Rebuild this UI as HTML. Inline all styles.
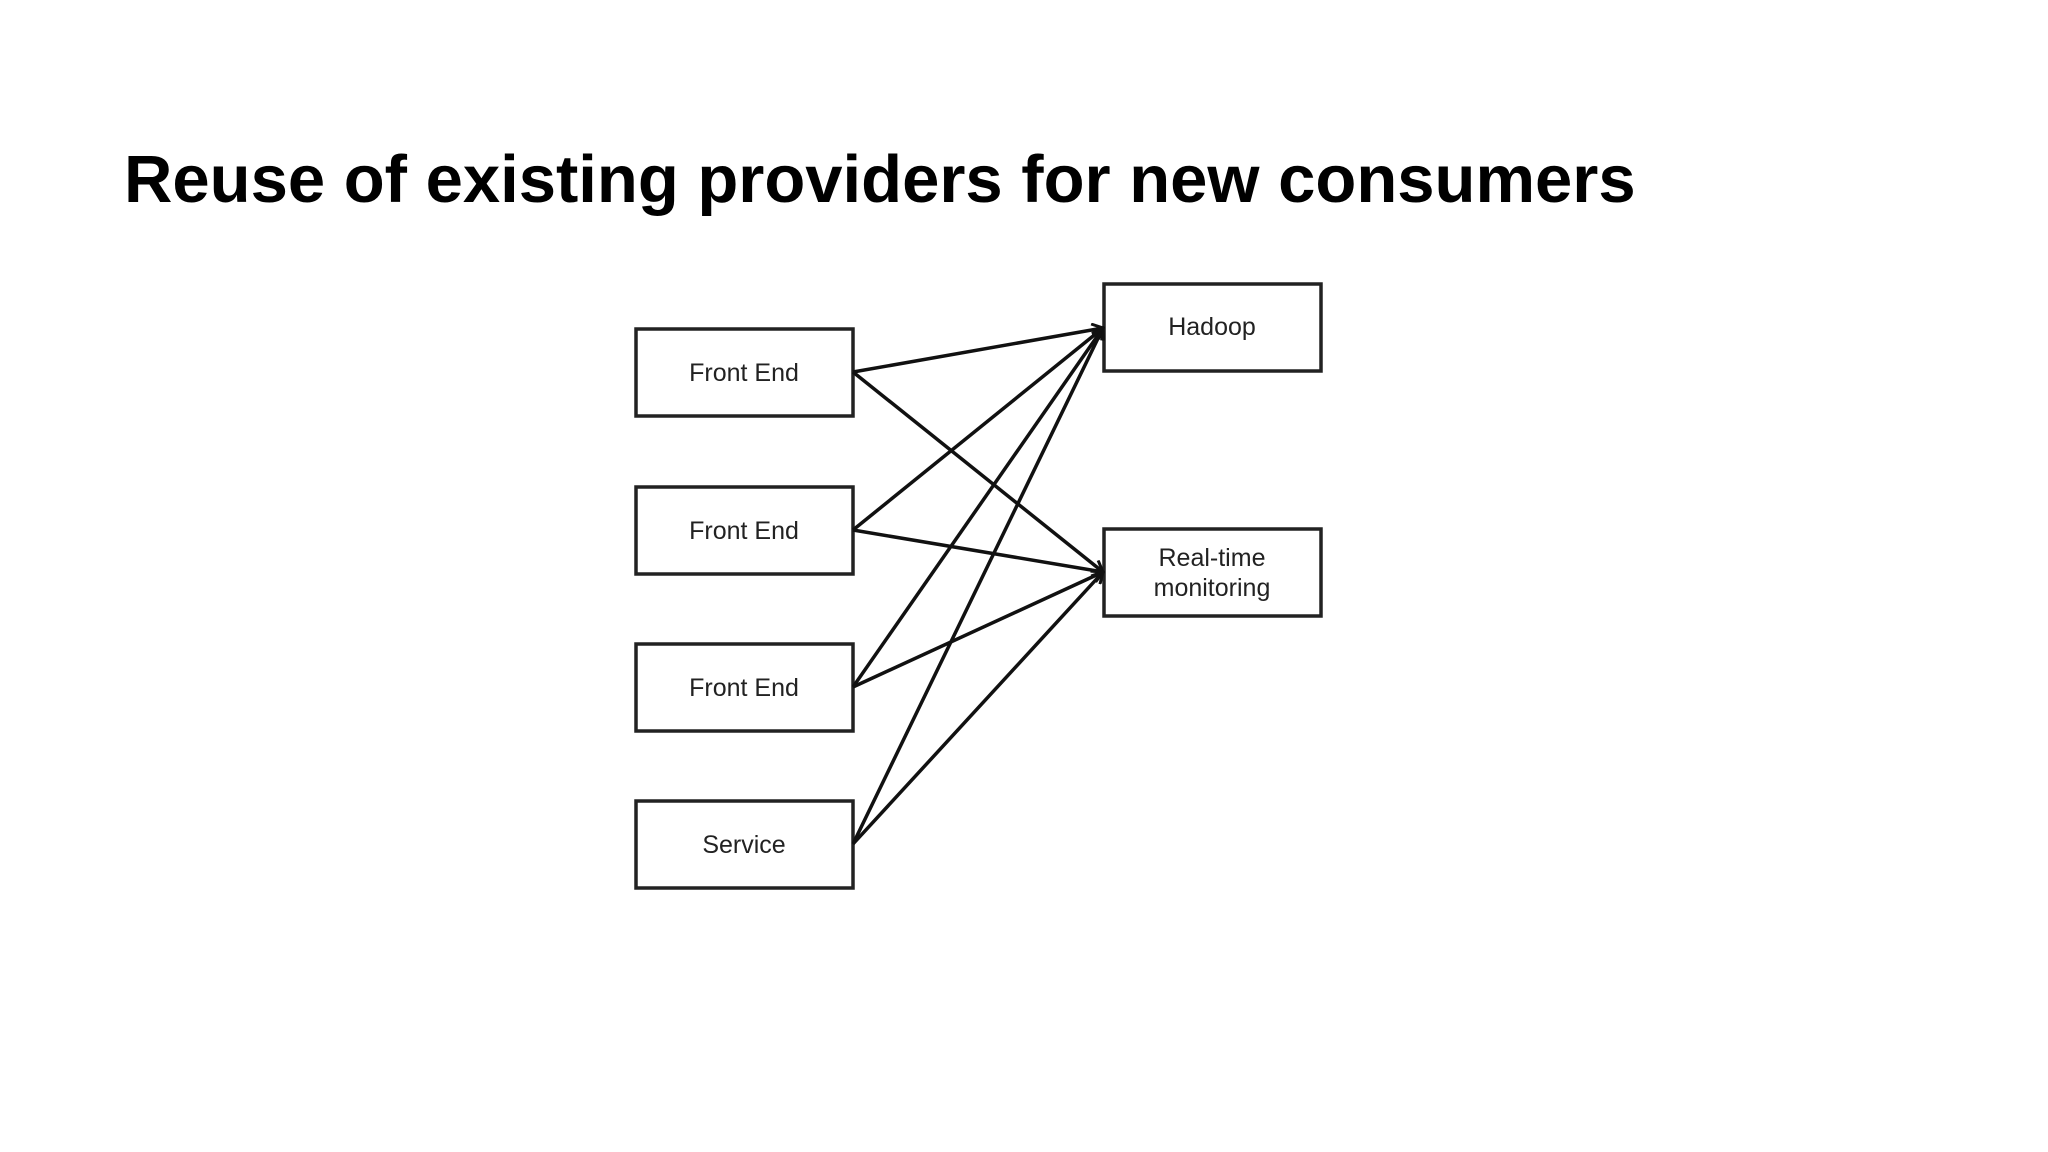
<!DOCTYPE html>
<html><head><meta charset="utf-8"><style>
body{margin:0;width:2048px;height:1152px;background:#fff;overflow:hidden;position:relative;font-family:"Liberation Sans",Arial,sans-serif}
h1{position:absolute;left:124px;top:140px;margin:0;font-size:67px;font-weight:bold;line-height:80px;color:#000}
</style></head><body>
<h1>Reuse of existing providers for new consumers</h1>
<svg width="2048" height="1152" style="position:absolute;left:0;top:0">
<defs><marker id="a" markerWidth="14" markerHeight="14" refX="12" refY="7" orient="auto" markerUnits="userSpaceOnUse"><path d="M1,1 L12,7 L1,13" fill="none" stroke="#111" stroke-width="3"/></marker></defs>
<g stroke="#222" stroke-width="3.5" fill="#fff">
<rect x="636" y="329" width="217" height="87"/>
<rect x="636" y="487" width="217" height="87"/>
<rect x="636" y="644" width="217" height="87"/>
<rect x="636" y="801" width="217" height="87"/>
<rect x="1104" y="284" width="217" height="87"/>
<rect x="1104" y="529" width="217" height="87"/>
</g>
<g stroke="#111" stroke-width="3.5" fill="none" marker-end="url(#a)">
<line x1="853" y1="372" x2="1103" y2="328"/>
<line x1="853" y1="372" x2="1103" y2="572"/>
<line x1="853" y1="530" x2="1103" y2="328"/>
<line x1="853" y1="530" x2="1103" y2="572"/>
<line x1="853" y1="687" x2="1103" y2="328"/>
<line x1="853" y1="687" x2="1103" y2="572"/>
<line x1="853" y1="844" x2="1103" y2="328"/>
<line x1="853" y1="844" x2="1103" y2="572"/>
</g>
<g font-family="Liberation Sans, Arial, sans-serif" font-size="25" fill="#222" text-anchor="middle">
<text x="744" y="381">Front End</text>
<text x="744" y="539">Front End</text>
<text x="744" y="696">Front End</text>
<text x="744" y="853">Service</text>
<text x="1212" y="335">Hadoop</text>
<text x="1212" y="566">Real-time</text>
<text x="1212" y="596">monitoring</text>
</g>
</svg>
</body></html>
